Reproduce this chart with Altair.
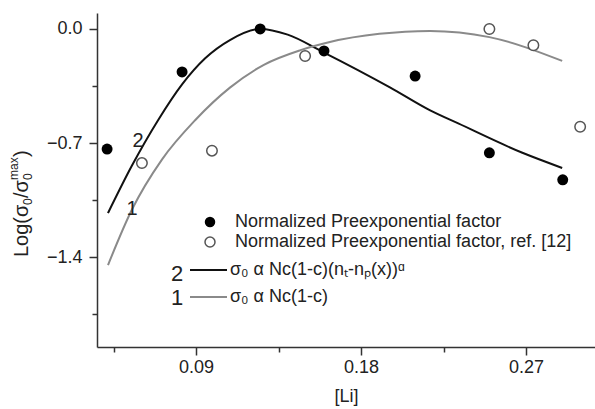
import altair as alt
import pandas as pd

# ---- data ----
li_filled = [0.0415, 0.0824, 0.125, 0.1598, 0.2095, 0.25, 0.29]
log_filled = [-0.737, -0.264, 0.0, -0.135, -0.289, -0.76, -0.926]

li_open = [0.0605, 0.0987, 0.1495, 0.25, 0.274, 0.2995]
log_open = [-0.823, -0.747, -0.166, 0.0, -0.10, -0.60]

curve2_x = [0.042, 0.055, 0.0693, 0.0824, 0.095, 0.1085, 0.125, 0.14, 0.159, 0.196, 0.2177, 0.233, 0.268, 0.2897]
curve2_y = [-1.13, -0.84, -0.56, -0.34, -0.18, -0.068, 0.0, -0.035, -0.14, -0.36, -0.50, -0.58, -0.76, -0.853]

curve1_x = [0.042, 0.055, 0.0715, 0.0895, 0.1085, 0.127, 0.147, 0.163, 0.19, 0.2177, 0.25, 0.2897]
curve1_y = [-1.449, -1.11, -0.80, -0.56, -0.36, -0.22, -0.13, -0.08, -0.03, -0.012, -0.05, -0.196]

x_major = [0.09, 0.18, 0.27]
x_minor = [0.045, 0.135, 0.225]
y_major = [0.0, -0.7, -1.4]
y_minor = [-0.35, -1.05, -1.75]

legend_labels = [
    "Normalized Preexponential factor",
    "Normalized Preexponential factor, ref. [12]",
    "σ\u2080 α Nc(1-c)(n\u209c-n\u209a(x))\u1d45",
    "σ\u2080 α Nc(1-c)",
]
curve_numbers = ["2", "1"]
x_title = "[Li]"
# y title pieces: Log(σ_0 / σ_0^max)
y_title_parts = ["Log(σ", "0", "/σ", "0", "max", ")"]

FONT = "Liberation Sans"
W, H = 498, 334

df_f = pd.DataFrame({"x": li_filled, "y": log_filled})
df_o = pd.DataFrame({"x": li_open, "y": log_open})
df_c2 = pd.DataFrame({"x": curve2_x, "y": curve2_y})
df_c1 = pd.DataFrame({"x": curve1_x, "y": curve1_y})

xs = alt.Scale(domain=[0.036, 0.3076], nice=False, zero=False)
ys = alt.Scale(domain=[-1.952, 0.098], nice=False, zero=False)

x_axis = alt.Axis(values=x_major, format=".2f", title=x_title, grid=False,
                  tickSize=8, tickWidth=1.5, tickColor="#333", domainColor="#333",
                  domainWidth=1.5, labelFont=FONT, labelFontSize=18, labelColor="#222",
                  labelPadding=3, titleFont=FONT, titleFontSize=18, titleFontWeight="normal",
                  titleColor="#222", titleBaseline="alphabetic", titleY=54, orient="bottom")
y_axis = alt.Axis(values=y_major, format=".1f", title=None, grid=False,
                  tickSize=8, tickWidth=1.5, tickColor="#333", domainColor="#333",
                  domainWidth=1.5, labelFont=FONT, labelFontSize=18, labelColor="#222",
                  labelPadding=7, orient="left")

x_minor_axis = alt.Axis(values=x_minor, labels=False, title=None, grid=False, domain=False,
                        tickSize=5, tickWidth=1.5, tickColor="#333", orient="bottom")
y_minor_axis = alt.Axis(values=y_minor, labels=False, title=None, grid=False, domain=False,
                        tickSize=5, tickWidth=1.5, tickColor="#333", orient="left")

curve2 = alt.Chart(df_c2).mark_line(color="#111", strokeWidth=2, interpolate="monotone").encode(
    x=alt.X("x:Q", scale=xs, axis=x_axis), y=alt.Y("y:Q", scale=ys, axis=y_axis))
curve1 = alt.Chart(df_c1).mark_line(color="#8a8a8a", strokeWidth=2, interpolate="monotone").encode(
    x=alt.X("x:Q", scale=xs, axis=None), y=alt.Y("y:Q", scale=ys, axis=None))
minor = alt.Chart(df_c1).mark_point(opacity=0).encode(
    x=alt.X("x:Q", scale=xs, axis=x_minor_axis), y=alt.Y("y:Q", scale=ys, axis=y_minor_axis))

filled = alt.Chart(df_f).mark_point(shape="circle", filled=True, color="#000", size=120, opacity=1).encode(
    x=alt.X("x:Q", scale=xs, axis=None), y=alt.Y("y:Q", scale=ys, axis=None))
opened = alt.Chart(df_o).mark_point(shape="circle", filled=False, stroke="#555", fill="white",
                                    strokeWidth=1.5, size=110, opacity=1).encode(
    x=alt.X("x:Q", scale=xs, axis=None), y=alt.Y("y:Q", scale=ys, axis=None))

one = pd.DataFrame({"k": [0]})

def txt(s, x, y, size=18, align="left", angle=0, baseline="middle"):
    return alt.Chart(one).mark_text(font=FONT, fontSize=size, align=align, baseline=baseline,
                                    angle=angle, color="#222").encode(
        x=alt.value(x), y=alt.value(y), text=alt.value(s))

leg_f = alt.Chart(one).mark_point(shape="circle", filled=True, color="#000", size=110, opacity=1).encode(
    x=alt.value(113), y=alt.value(209))
leg_o = alt.Chart(one).mark_point(shape="circle", filled=False, stroke="#555", strokeWidth=1.5,
                                  size=100, opacity=1).encode(x=alt.value(113), y=alt.value(229))
leg_l2 = alt.Chart(one).mark_rule(color="#111", strokeWidth=2).encode(
    x=alt.value(93), x2=alt.value(130), y=alt.value(257))
leg_l1 = alt.Chart(one).mark_rule(color="#8a8a8a", strokeWidth=2).encode(
    x=alt.value(93), x2=alt.value(130), y=alt.value(284))

# rotated y-axis title, composed of main / subscript / superscript pieces
ytl = [
    txt(y_title_parts[0], -69, 244, size=20, angle=270, baseline="alphabetic"),
    txt(y_title_parts[1], -65, 192, size=12, angle=270, baseline="alphabetic"),
    txt(y_title_parts[2], -69, 185, size=20, angle=270, baseline="alphabetic"),
    txt(y_title_parts[3], -65, 167, size=12, angle=270, baseline="alphabetic"),
    txt(y_title_parts[4], -79, 167, size=12, angle=270, baseline="alphabetic"),
    txt(y_title_parts[5], -69, 144, size=20, angle=270, baseline="alphabetic"),
]

layers = [
    curve2, curve1, minor, filled, opened,
    leg_f, leg_o, leg_l2, leg_l1,
    txt(legend_labels[0], 138, 209),
    txt(legend_labels[1], 138, 229),
    txt(legend_labels[2], 133, 257),
    txt(legend_labels[3], 133, 284),
    txt(curve_numbers[0], 80, 261, size=22, align="center"),
    txt(curve_numbers[1], 80, 285, size=22, align="center"),
    txt(curve_numbers[0], 41, 128, size=20, align="center"),
    txt(curve_numbers[1], 35, 196, size=20, align="center"),
] + ytl

chart = alt.layer(*layers).resolve_axis(x="independent", y="independent").properties(
    width=W, height=H,
    padding={"left": 97, "top": 13, "right": 0, "bottom": 62},
    autosize=alt.AutoSizeParams(type="none"),
    background="white",
).configure_view(stroke=None)

chart.save("out.html", embed_options={"renderer": "svg", "actions": False})
